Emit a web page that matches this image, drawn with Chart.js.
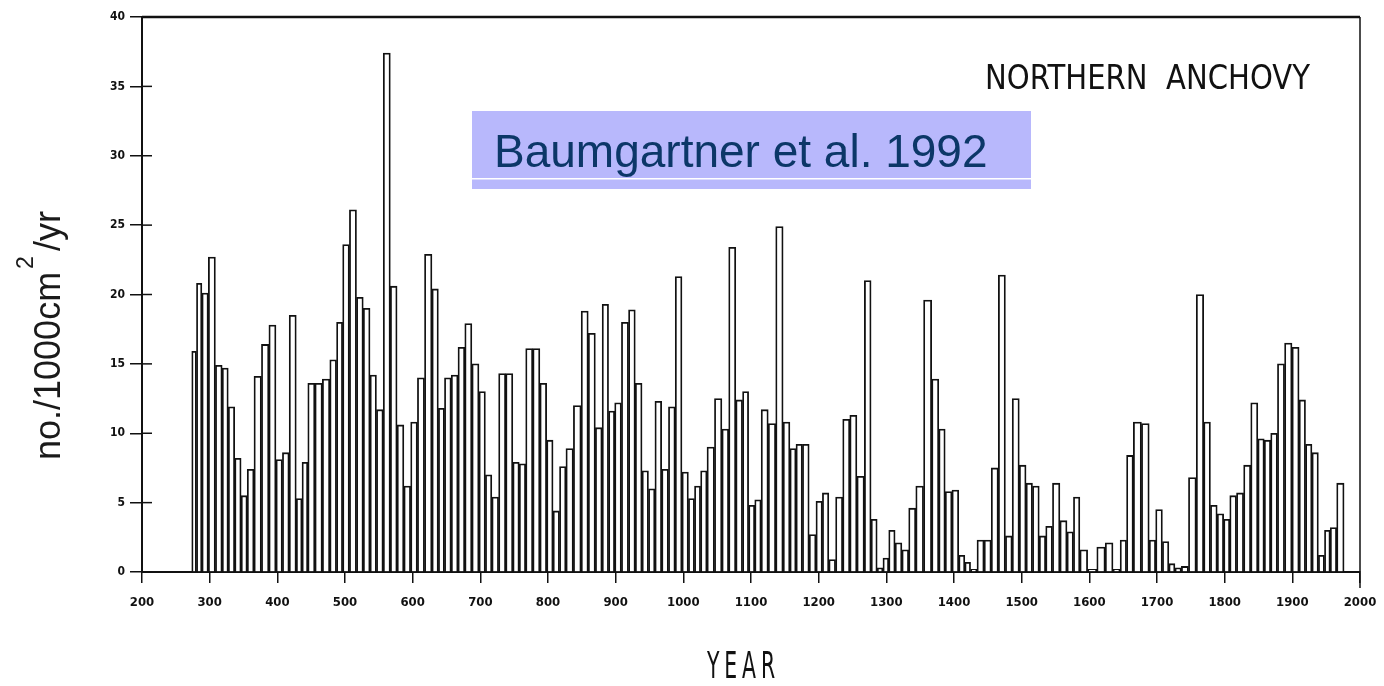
<!DOCTYPE html>
<html>
<head>
<meta charset="utf-8">
<script src="https://cdn.jsdelivr.net/npm/chart.js@4.4.1/dist/chart.umd.min.js"></script>
<style>
  html, body { margin: 0; padding: 0; background: #fff; }
  #wrap { width: 1384px; height: 686px; }
</style>
</head>
<body>
<div id="wrap"><canvas id="anchovyChart" width="1384" height="686"></canvas></div>
<script>
// Northern anchovy scale deposition
// (year = centre of each sample bar)
const years = [
    277, 284, 293, 303, 314, 323, 332, 342, 351, 360,
    371, 382, 393, 403, 412, 423, 433, 440, 450, 461,
    472, 483, 492, 501, 512, 522, 532, 542, 551, 562,
    572, 582, 592, 602, 612, 623, 634, 642, 652, 662,
    672, 682, 693, 703, 712, 722, 732, 743, 753, 762,
    772, 783, 793, 803, 812, 822, 831, 844, 854, 865,
    875, 885, 894, 903, 914, 924, 934, 944, 953, 963,
    973, 983, 993, 1003, 1012, 1021, 1030, 1040, 1052, 1062,
    1072, 1083, 1092, 1101, 1110, 1120, 1131, 1142, 1153, 1162,
    1171, 1181, 1191, 1201, 1210, 1220, 1230, 1241, 1251, 1262,
    1273, 1282, 1291, 1299, 1308, 1318, 1328, 1338, 1349, 1361,
    1373, 1382, 1392, 1402, 1412, 1420, 1429, 1439, 1450, 1460,
    1471, 1481, 1491, 1502, 1511, 1521, 1531, 1540, 1551, 1562,
    1572, 1581, 1591, 1604, 1618, 1629, 1641, 1650, 1660, 1670,
    1684, 1693, 1703, 1713, 1722, 1731, 1741, 1752, 1764, 1774,
    1784, 1794, 1803, 1812, 1823, 1833, 1844, 1854, 1863, 1873,
    1883, 1894, 1905, 1915, 1924, 1934, 1943, 1952, 1960, 1971
];
const scaleRate = [
    15.9, 20.8, 20.1, 22.7, 14.9, 14.7, 11.9, 8.2, 5.5, 7.4,
    14.1, 16.4, 17.8, 8.1, 8.6, 18.5, 5.3, 7.9, 13.6, 13.6,
    13.9, 15.3, 18.0, 23.6, 26.1, 19.8, 19.0, 14.2, 11.7, 37.4,
    20.6, 10.6, 6.2, 10.8, 14.0, 22.9, 20.4, 11.8, 14.0, 14.2,
    16.2, 17.9, 15.0, 13.0, 7.0, 5.4, 14.3, 14.3, 7.9, 7.8,
    16.1, 16.1, 13.6, 9.5, 4.4, 7.6, 8.9, 12.0, 18.8, 17.2,
    10.4, 19.3, 11.6, 12.2, 18.0, 18.9, 13.6, 7.3, 6.0, 12.3,
    7.4, 11.9, 21.3, 7.2, 5.3, 6.2, 7.3, 9.0, 12.5, 10.3,
    23.4, 12.4, 13.0, 4.8, 5.2, 11.7, 10.7, 24.9, 10.8, 8.9,
    9.2, 9.2, 2.7, 5.1, 5.7, 0.9, 5.4, 11.0, 11.3, 6.9,
    21.0, 3.8, 0.3, 1.0, 3.0, 2.1, 1.6, 4.6, 6.2, 19.6,
    13.9, 10.3, 5.8, 5.9, 1.2, 0.7, 0.2, 2.3, 2.3, 7.5,
    21.4, 2.6, 12.5, 7.7, 6.4, 6.2, 2.6, 3.3, 6.4, 3.7,
    2.9, 5.4, 1.6, 0.2, 1.8, 2.1, 0.2, 2.3, 8.4, 10.8,
    10.7, 2.3, 4.5, 2.2, 0.6, 0.3, 0.4, 6.8, 20.0, 10.8,
    4.8, 4.2, 3.8, 5.5, 5.7, 7.7, 12.2, 9.6, 9.5, 10.0,
    15.0, 16.5, 16.2, 12.4, 9.2, 8.6, 1.2, 3.0, 3.2, 6.4
];
const yearRange = [200, 2000];
const yearStep = 100;
const rateRange = [0, 40];
const rateStep = 5;

const tickFont = { family: "'DejaVu Sans Condensed', 'Liberation Sans Narrow', sans-serif", weight: 'bold' };
const scanFont = "'DejaVu Sans Condensed', 'Liberation Sans Narrow', sans-serif";

// text squeezed to a given width, like the condensed scan lettering
function drawFitted(ctx, text, x, baseline, width, font, spacing) {
    ctx.save();
    ctx.font = font;
    if (spacing) ctx.letterSpacing = spacing;
    const w = ctx.measureText(text).width;
    ctx.translate(x, baseline);
    ctx.scale(width / w, 1);
    ctx.fillText(text, 0, 0);
    ctx.restore();
}

const decorations = {
    id: 'decorations',
    afterDraw(chart) {
        const ctx = chart.ctx;
        const area = chart.chartArea;
        const yScale = chart.scales.y;
        ctx.save();
        ctx.strokeStyle = '#111';
        ctx.fillStyle = '#111';

        // frame top + right
        ctx.lineWidth = 2.5;
        ctx.beginPath();
        ctx.moveTo(area.left, area.top);
        ctx.lineTo(area.right, area.top);
        ctx.stroke();
        ctx.lineWidth = 1.5;
        ctx.beginPath();
        ctx.moveTo(area.right, area.top);
        ctx.lineTo(area.right, area.bottom + 16);
        ctx.stroke();

        // y ticks also reach into the plot
        yScale.ticks.forEach(t => {
            const py = yScale.getPixelForValue(t.value);
            ctx.beginPath();
            ctx.moveTo(area.left, py);
            ctx.lineTo(area.left + 10, py);
            ctx.stroke();
        });

        // y axis title with superscript
        ctx.save();
        ctx.translate(area.left - 82, 460);
        ctx.rotate(-Math.PI / 2);
        ctx.fillStyle = '#1a1a1a';
        ctx.font = '36px "Liberation Sans", Arial, sans-serif';
        ctx.fillText('no./1000cm', 0, 0);
        let w = ctx.measureText('no./1000cm').width;
        ctx.font = '23px "Liberation Sans", Arial, sans-serif';
        ctx.fillText('2', w + 3, -27);
        w += ctx.measureText('2').width + 8;
        ctx.font = '36px "Liberation Sans", Arial, sans-serif';
        ctx.fillText('/yr', w, 0);
        ctx.restore();

        // x axis title
        drawFitted(ctx, 'YEAR', 707, 678, 73, '37px ' + scanFont, '8px');

        // figure label
        drawFitted(ctx, 'NORTHERN  ANCHOVY', 985, 89, 325, '34px ' + scanFont);

        // citation box
        ctx.fillStyle = '#b8b8fc';
        ctx.fillRect(472, 111, 559, 78);
        ctx.fillStyle = '#ffffff';
        ctx.fillRect(472, 178, 559, 1.5);
        ctx.fillStyle = '#0c3768';
        ctx.font = '46px "Liberation Sans", Arial, sans-serif';
        ctx.fillText('Baumgartner et al. 1992', 494, 167);

        ctx.restore();
    }
};

function createAnchovyChart(ctx) {
    return new Chart(ctx, {
        type: 'bar',
        data: {
            datasets: [{
                label: 'Northern anchovy',
                data: years.map((yr, i) => ({ x: yr, y: scaleRate[i] })),
                backgroundColor: '#ffffff',
                borderColor: '#111111',
                borderWidth: 1.8,
                barThickness: 'flex',
                barPercentage: 1,
                categoryPercentage: 1
            }]
        },
        options: {
            responsive: false,
            animation: false,
            devicePixelRatio: 1,
            layout: { padding: { top: 17, right: 24, left: 0, bottom: 0 } },
            plugins: {
                legend: { display: false },
                tooltip: { enabled: false }
            },
            scales: {
                x: {
                    type: 'linear',
                    offset: false,
                    min: yearRange[0],
                    max: yearRange[1],
                    border: { display: true, color: '#111', width: 2 },
                    grid: { offset: false, drawOnChartArea: false, drawTicks: true, tickLength: 11, color: '#111', lineWidth: 1.5 },
                    ticks: {
                        stepSize: yearStep,
                        padding: 12,
                        color: '#111',
                        font: Object.assign({ size: 13 }, tickFont),
                        maxRotation: 0,
                        autoSkip: false,
                        callback: v => String(v)
                    },
                    afterFit(scale) {
                        scale.height = 114;
                        scale.paddingLeft = 0;
                        scale.paddingRight = 0;
                    }
                },
                y: {
                    min: rateRange[0],
                    max: rateRange[1],
                    border: { display: true, color: '#111', width: 2 },
                    grid: { drawOnChartArea: false, drawTicks: true, tickLength: 12, color: '#111', lineWidth: 1.5 },
                    ticks: {
                        stepSize: rateStep,
                        padding: 5,
                        color: '#111',
                        font: Object.assign({ size: 12 }, tickFont)
                    },
                    afterFit(scale) { scale.width = 142; }
                }
            }
        },
        plugins: [decorations]
    });
}

document.addEventListener('DOMContentLoaded', function () {
    createAnchovyChart(document.getElementById('anchovyChart'));
});
</script>
</body>
</html>
